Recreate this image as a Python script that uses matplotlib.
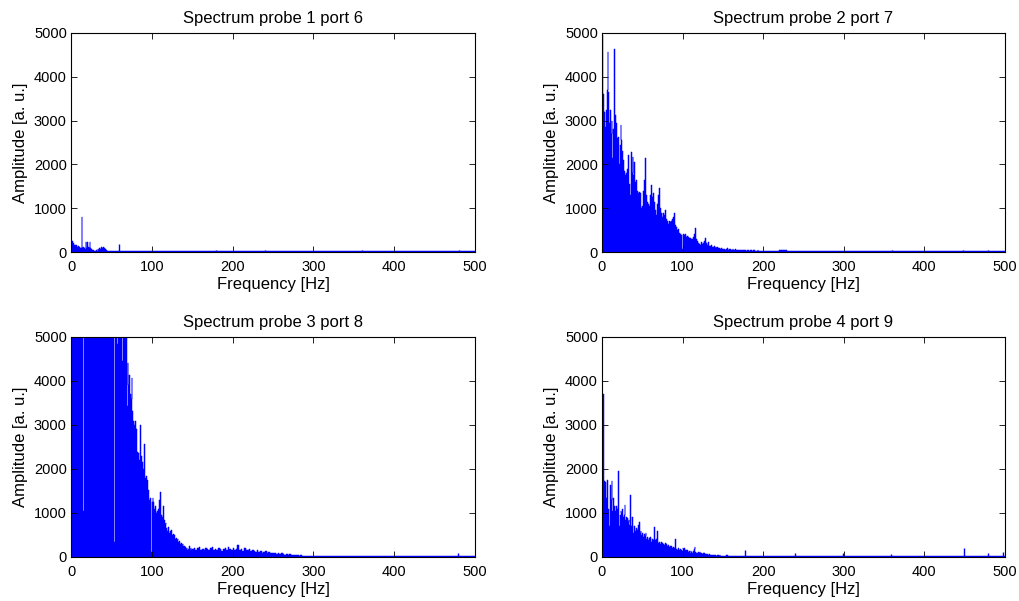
import numpy as np
import matplotlib
matplotlib.use("Agg")
import matplotlib.pyplot as plt

plt.rcParams['font.family'] = ['Liberation Sans', 'DejaVu Sans']
plt.rcParams['font.size'] = 11

titles = ["Spectrum probe 1 port 6", "Spectrum probe 2 port 7",
          "Spectrum probe 3 port 8", "Spectrum probe 4 port 9"]
xlabel_text = "Frequency [Hz]"
ylabel_text = "Amplitude [a. u.]"
x_ticks = [0, 100, 200, 300, 400, 500]
y_ticks = [0, 1000, 2000, 3000, 4000, 5000]

# ---- probe 1 (1 Hz steps from 0 Hz, then 10 Hz steps) ----
p1_fine = [260, 250, 200, 200, 160, 170, 150, 140, 120, 130,
           110, 100, 90, 806, 80, 110, 90, 70, 236, 100,
           236, 110, 90, 236, 80, 60, 50, 40, 30, 25,
           30, 40, 30, 60, 50, 80, 60, 120, 90, 100,
           105, 80, 60, 40, 30, 25, 22, 25, 22, 25]
p1_tail = [22, 24, 22, 22, 23, 22, 22, 24, 22, 22,
           22, 23, 22, 22, 22, 24, 22, 22, 23, 22,
           22, 22, 24, 22, 22, 22, 23, 22, 22, 22,
           24, 22, 22, 22, 23, 22, 22, 22, 24, 22,
           22, 22, 23, 22, 22, 22]
p1_spike_f = [59.5, 179.5, 240, 360, 480.5]
p1_spike_a = [190, 45, 35, 35, 55]

# ---- probe 2 ----
p2_fine = [4950, 3600, 2900, 3200, 2850, 3250, 3700, 4570, 3660, 2950,
           3240, 2700, 2990, 2150, 2800, 4630, 3130, 2950, 2700, 2600,
           2630, 2000, 2450, 2900, 2550, 2300, 2100, 1850, 1800, 1750,
           1800, 1900, 2210, 1950, 1550, 1300, 2290, 1800, 2180, 1750,
           2050, 1600, 1650, 1450, 1400, 1340, 1380, 1350, 150, 1000,
           1050, 1400, 1650, 2140, 1450, 1300, 1150, 1100, 1050, 1150,
           1300, 1530, 1250, 1350, 1200, 1150, 950, 850, 1100, 1050,
           1300, 1450, 1000, 900, 850, 800, 900, 850, 950, 800,
           750, 700, 650, 700, 680, 650, 700, 760, 800, 900,
           650, 620, 560, 500, 520, 480, 430, 400, 380, 60,
           400, 420, 380, 410, 350, 330, 370, 340, 320, 310,
           330, 290, 300, 350, 420, 520, 550, 300, 250, 200,
           180, 160, 170, 230, 190, 210, 160, 250, 320, 200,
           150, 170, 220, 140, 130, 170, 150, 120, 110, 130,
           100, 120, 90, 110, 80, 100, 90, 70, 85, 75,
           70, 60, 75, 50, 65, 80, 55, 45, 70, 60,
           50, 55, 65, 40, 50, 60, 45, 55, 40, 50,
           45, 40, 50, 35, 45, 55, 40, 35, 45, 30,
           40, 35, 45, 30, 40, 35, 30, 40, 25, 35,
           30, 30, 25, 35, 30, 25, 30, 25, 30, 25]
p2_tail = [25, 30, 35, 25, 30, 32, 25, 28, 24, 26,
           24, 22, 24, 22, 22, 23, 22, 22, 23, 22,
           22, 22, 23, 22, 22, 23, 22, 22, 22, 22, 22]
p2_spike_f = [360, 448, 479]
p2_spike_a = [55, 55, 50]

# ---- probe 3 (values above 5000 are clipped by the axis) ----
p3_fine = ([6000] * 15 + [1035] + [6000] * 33 + [4200] + [6000] * 3 + [330]
           + [6000] * 3 + [4840] + [6000] * 5 + [4450] + [6000] * 5 +
           [3424, 4413, 3900, 4147, 3700, 3580, 4070, 3310, 3080, 3000,
            3100, 2780, 2900, 2380, 2360, 2210, 2500, 2990, 2300, 2150,
            2000, 2570, 2000, 1800, 1850, 1750, 1520, 1415, 1300, 1350,
            120, 1255, 1340, 1250, 1100, 1150, 1000, 980, 1050, 1100,
            1300, 1480, 1050, 950, 900, 1150, 850, 750, 770, 650,
            600, 680, 550, 580, 600, 620, 500, 520, 450, 500,
            420, 440, 380, 400, 350, 370, 300, 320, 280, 300,
            260, 250, 230, 180, 210, 160, 190, 240, 170, 200, 150])
p3_mid = [180, 210, 160, 200, 230, 170, 190, 150, 210, 180,
          160, 200, 220, 150, 190, 170, 210, 180, 140, 190,
          200, 160, 220, 180, 150, 210, 170, 190, 274, 160,
          180, 140, 200, 170, 150, 190, 130, 160, 140, 120,
          150, 110, 130, 100, 120, 140, 90, 110, 100, 80,
          100, 90, 70, 85, 60, 80, 70, 55, 65, 50,
          60, 45, 40, 50, 35, 40, 30, 35, 30, 30, 25, 28, 25, 24, 22]
p3_tail = [22, 22, 20, 22, 20, 20, 22, 20, 20, 22, 20,
           20, 22, 20, 20, 22, 20, 20, 22, 20, 20]
p3_spike_f = [479]
p3_spike_a = [100]

# ---- probe 4 ----
p4_fine = [1500, 3700, 1490, 1720, 1700, 1350, 1750, 1755, 1100, 700,
           1640, 1300, 1720, 1050, 1350, 1150, 1050, 1150, 950, 1100,
           1948, 700, 950, 1050, 1000, 1100, 900, 950, 1180, 850,
           900, 880, 800, 850, 720, 1415, 700, 900, 850, 550,
           700, 600, 650, 500, 620, 720, 800, 550, 600, 500,
           550, 450, 520, 480, 550, 420, 460, 380, 440, 400,
           450, 350, 420, 380, 480, 692, 380, 400, 600, 380,
           320, 350, 300, 330, 280, 320, 300, 280, 320, 260,
           300, 250, 280, 230, 260, 240, 250, 200, 230, 210,
           240, 400, 180, 150, 200, 180, 160, 190, 170, 140,
           200, 180, 200, 150, 170, 140, 160, 120, 140, 100,
           130, 110, 90, 130, 180, 230, 120, 100, 80, 110,
           90, 120, 80, 100, 70, 90, 60, 80, 70, 60,
           70, 55, 45, 60, 40, 50, 45, 38, 50, 35,
           42, 38, 30, 40, 35, 28, 36, 30, 32, 28]
p4_mid = [32, 28, 35, 30, 26, 32, 28, 25, 30, 26,
          28, 25, 24, 27, 25, 24, 26, 23, 25, 24,
          22, 25, 23, 22, 24]
p4_tail = [22, 21, 22, 21, 22, 22, 21, 22, 21, 22,
           21, 22, 21, 21, 22, 21, 21, 22, 21, 21,
           22, 21, 21, 22, 21, 21, 21, 22, 21, 21, 21]
p4_spike_f = [178, 239, 299, 359, 449, 478.5, 497]
p4_spike_a = [160, 100, 100, 60, 198, 100, 120]


def build(segments):
    fs, amps = [], []
    for start, step, vals in segments:
        fs.append(start + step * np.arange(len(vals)))
        amps.append(np.asarray(vals, dtype=float))
    f = np.concatenate(fs + [np.array([500.0])])
    a = np.concatenate(amps + [amps[-1][-1:]])
    return f, a


panels = [
    (build([(0, 1, p1_fine), (50, 10, p1_tail)]), p1_spike_f, p1_spike_a),
    (build([(0, 1, p2_fine), (200, 10, p2_tail)]), p2_spike_f, p2_spike_a),
    (build([(0, 1, p3_fine), (150, 2, p3_mid), (300, 10, p3_tail)]), p3_spike_f, p3_spike_a),
    (build([(0, 1, p4_fine), (150, 2, p4_mid), (200, 10, p4_tail)]), p4_spike_f, p4_spike_a),
]

W, H = 1019, 601
fig = plt.figure(figsize=(W / 100, H / 100), dpi=100)
boxes = [(71, 33, 475, 252), (602, 33, 1005, 252),
         (71, 337, 475, 557), (602, 337, 1005, 557)]
blue = '#0000ff'
for (box, ((f, a), sf, sa), title) in zip(boxes, panels, titles):
    x0, y0, x1, y1 = box
    ax = fig.add_axes([x0 / W, 1 - y1 / H, (x1 - x0) / W, (y1 - y0) / H])
    ax.fill_between(f, 0, a, step='post', color=blue, lw=0)
    ax.step(f, a, where='post', color=blue, lw=0.35)
    ax.vlines(sf, 0, sa, color=blue, lw=1.0)
    ax.set_xlim(0, 500)
    ax.set_ylim(0, 5000)
    ax.set_xticks(x_ticks)
    ax.set_yticks(y_ticks)
    ax.tick_params(direction='in', top=True, right=True, length=4, width=0.6,
                   labelsize=10.5)
    ax.tick_params(axis='x', pad=6)
    ax.tick_params(axis='y', pad=3)
    for s in ax.spines.values():
        s.set_linewidth(0.8)
    ax.set_title(title, fontsize=12, pad=7)
    ax.set_xlabel(xlabel_text, fontsize=12, labelpad=2)
    ax.set_ylabel(ylabel_text, fontsize=12, labelpad=4)

fig.savefig("out.png", dpi=100)
